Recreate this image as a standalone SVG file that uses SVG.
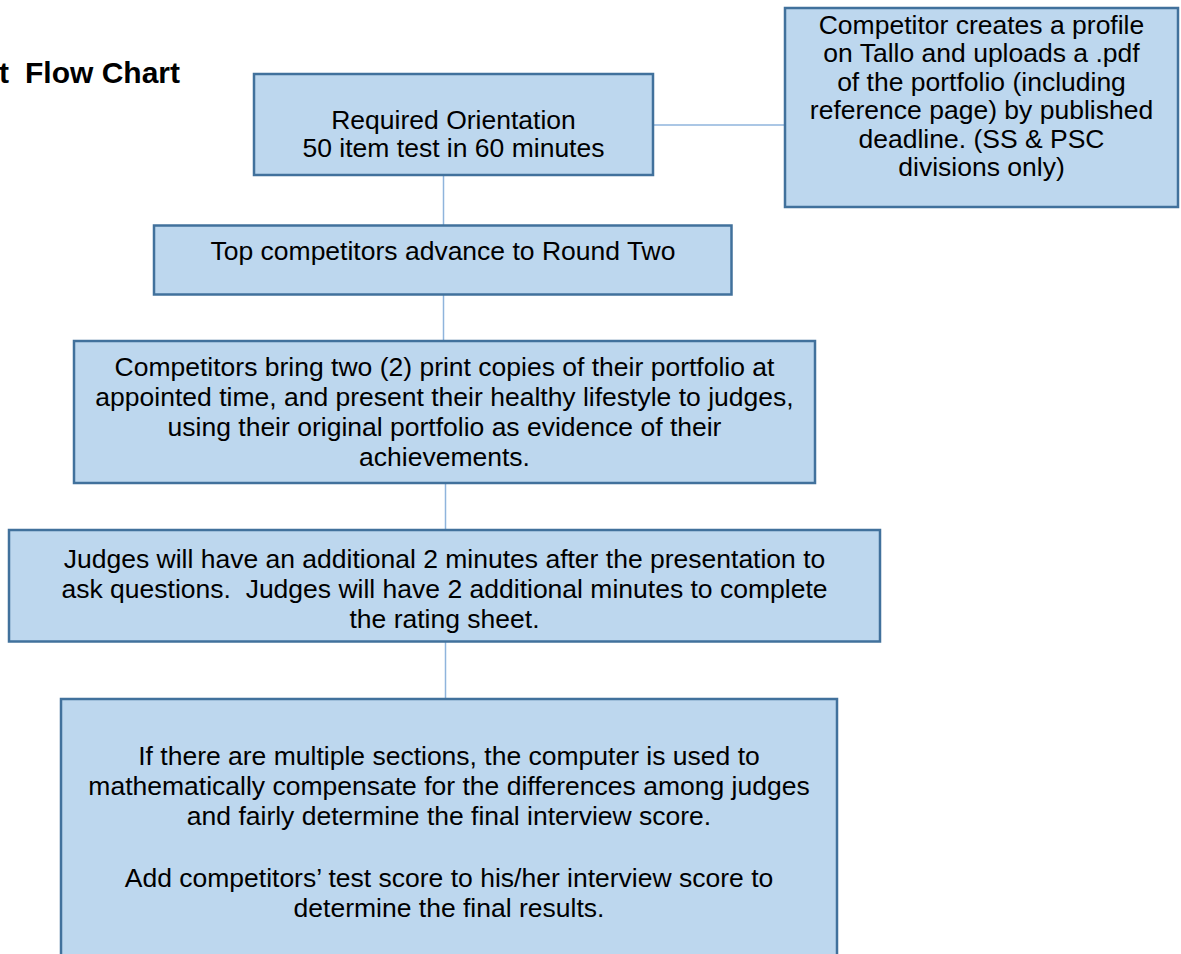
<svg xmlns="http://www.w3.org/2000/svg" width="1181" height="954" viewBox="0 0 1181 954">
<style>
.box{fill:#BDD7EE;stroke:#41719C;stroke-width:2.5}
.t{font-family:"Liberation Sans",Arial,sans-serif;font-size:26.5px;fill:#000;text-anchor:middle}
.title{font-family:"Liberation Sans",Arial,sans-serif;font-size:30px;font-weight:bold;fill:#000}
.c{stroke:#8FB4DC;stroke-width:1.5;fill:none}
</style>
<rect width="1181" height="954" fill="#fff"/>
<text class="title" y="83"><tspan x="-1">t</tspan><tspan x="25">Flow Chart</tspan></text>
<g id="connectors">
<line class="c" x1="653" y1="125" x2="785" y2="125"/>
<line class="c" x1="443.5" y1="175" x2="443.5" y2="225"/>
<line class="c" x1="443.5" y1="294" x2="443.5" y2="341"/>
<line class="c" x1="445.5" y1="483" x2="445.5" y2="530"/>
<line class="c" x1="445.5" y1="642" x2="445.5" y2="699"/>
</g>
<g id="n1">
<rect class="box" x="254" y="74" width="399" height="101"/>
<text class="t" x="453.5" y="128.5">Required Orientation</text>
<text class="t" x="453.5" y="157">50 item test in 60 minutes</text>
</g>
<g id="n2">
<rect class="box" x="785" y="8" width="393" height="199"/>
<text class="t" x="981.5" y="33.5">Competitor creates a profile</text>
<text class="t" x="981.5" y="62">on Tallo and uploads a .pdf</text>
<text class="t" x="981.5" y="90.5">of the portfolio (including</text>
<text class="t" x="981.5" y="119">reference page) by published</text>
<text class="t" x="981.5" y="147.5">deadline. (SS &amp; PSC</text>
<text class="t" x="981.5" y="176">divisions only)</text>
</g>
<g id="n3">
<rect class="box" x="154" y="225.5" width="577.5" height="69"/>
<text class="t" x="443" y="260">Top competitors advance to Round Two</text>
</g>
<g id="n4">
<rect class="box" x="74" y="341" width="741" height="142"/>
<text class="t" x="444.5" y="375.5">Competitors bring two (2) print copies of their portfolio at</text>
<text class="t" x="444.5" y="405.5">appointed time, and present their healthy lifestyle to judges,</text>
<text class="t" x="444.5" y="435.5">using their original portfolio as evidence of their</text>
<text class="t" x="444.5" y="465.5">achievements.</text>
</g>
<g id="n5">
<rect class="box" x="9" y="530" width="871" height="111.5"/>
<text class="t" x="444.5" y="568">Judges will have an additional 2 minutes after the presentation to</text>
<text class="t" x="444.5" y="598">ask questions.&#160; Judges will have 2 additional minutes to complete</text>
<text class="t" x="444.5" y="628">the rating sheet.</text>
</g>
<g id="n6">
<rect class="box" x="61" y="699" width="776" height="280"/>
<text class="t" x="449" y="765">If there are multiple sections, the computer is used to</text>
<text class="t" x="449" y="795">mathematically compensate for the differences among judges</text>
<text class="t" x="449" y="825">and fairly determine the final interview score.</text>
<text class="t" x="449" y="886.5">Add competitors’ test score to his/her interview score to</text>
<text class="t" x="449" y="916.5">determine the final results.</text>
</g>
</svg>
